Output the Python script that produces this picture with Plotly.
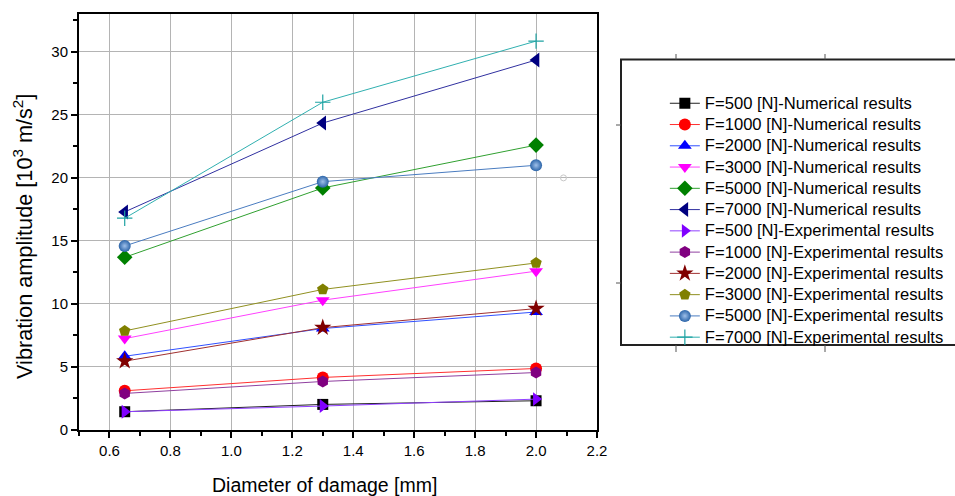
import plotly.graph_objects as go

diam = [0.65, 1.3, 2.0]

names = [
    "F=500 [N]-Numerical results",
    "F=1000 [N]-Numerical results",
    "F=2000 [N]-Numerical results",
    "F=3000 [N]-Numerical results",
    "F=5000 [N]-Numerical results",
    "F=7000 [N]-Numerical results",
    "F=500 [N]-Experimental results",
    "F=1000 [N]-Experimental results",
    "F=2000 [N]-Experimental results",
    "F=3000 [N]-Experimental results",
    "F=5000 [N]-Experimental results",
    "F=7000 [N]-Experimental results",
]

num_500 = [1.45, 2.03, 2.32]
num_1000 = [3.11, 4.17, 4.88]
num_2000 = [5.85, 8.05, 9.36]
num_3000 = [7.25, 10.3, 12.6]
num_5000 = [13.7, 19.2, 22.6]
num_7000 = [17.3, 24.35, 29.35]
exp_500 = [1.45, 1.9, 2.45]
exp_1000 = [2.9, 3.85, 4.56]
exp_2000 = [5.46, 8.12, 9.63]
exp_3000 = [7.86, 11.15, 13.25]
exp_5000 = [14.6, 19.7, 21.0]
exp_7000 = [16.8, 26.0, 30.85]

series = [num_500, num_1000, num_2000, num_3000, num_5000, num_7000,
          exp_500, exp_1000, exp_2000, exp_3000, exp_5000, exp_7000]

marker_colors = ["#000000", "#ff0000", "#0000ff", "#ff00ff", "#008000", "#000080",
                 "#8000ff", "#800080", "#800000", "#808000", "#2b64a8", "#1fa3a3"]
line_colors = ["#202020", "#ff3030", "#3050ff", "#ff40ff", "#30a030", "#3030a0",
               "#9040ff", "#9040a0", "#a03030", "#909020", "#4a7cc0", "#30b0b0"]
symbols = ["square", "circle", "triangle-up", "triangle-down", "diamond", "triangle-left",
           "triangle-right", "hexagon", "star", "pentagon", "circle", "cross-thin"]
sizes = [11, 12, 12, 12, 12, 13, 12, 12, 13, 12, 12, 11]

x_title = "Diameter of damage [mm]"
y_title = "Vibration amplitude [10<sup>3</sup> m/s<sup>2</sup>]"

stray_x = [2.09]
stray_y = [20.0]

font = "Liberation Sans, Arial, sans-serif"

fig = go.Figure()
for name, ys, mc, lc, sym, sz in zip(names, series, marker_colors, line_colors, symbols, sizes):
    marker = dict(symbol=sym, size=sz, color=mc, line=dict(width=0, color=mc))
    if sym == "cross-thin":
        marker["line"] = dict(width=1.2, color=mc)
    if name.startswith("F=5000 [N]-Exp"):
        marker["gradient"] = dict(type="radial", color="#9fc0ea")
    fig.add_trace(go.Scatter(
        x=diam, y=ys, mode="lines+markers",
        name="<span style='font-size:16.6px'>" + name + "</span>",
        line=dict(color=lc, width=1), marker=marker,
    ))

fig.add_trace(go.Scatter(
    x=stray_x, y=stray_y, mode="markers", showlegend=False, hoverinfo="skip",
    marker=dict(symbol="circle-open", size=6, color="#c8c8c8", line=dict(width=1)),
))

fig.update_layout(
    width=955, height=496,
    margin=dict(l=79, r=358, t=14, b=66, autoexpand=False),
    paper_bgcolor="white", plot_bgcolor="white",
    font=dict(family=font, size=15, color="black"),
    showlegend=True,
    legend=dict(
        x=1.131, y=0.823, xanchor="left", yanchor="top",
        bgcolor="rgba(0,0,0,0)", borderwidth=0,
        font=dict(family=font, size=14.05, color="black"),
        tracegroupgap=0,
    ),
    xaxis=dict(
        range=[0.5, 2.2], dtick=0.2, tick0=0.6, tickformat=".1f",
        showgrid=True, gridcolor="#b4b4b4", gridwidth=1,
        ticks="outside", ticklen=6, tickwidth=1.5, tickcolor="black",
        showline=True, linecolor="black", linewidth=2, mirror=True,
        minor=dict(dtick=0.1, ticks="outside", ticklen=4, tickcolor="black", showgrid=False),
        zeroline=False, automargin=False,
        tickfont=dict(size=15),
    ),
    yaxis=dict(
        range=[0, 33], dtick=5, tick0=0,
        showgrid=True, gridcolor="#b4b4b4", gridwidth=1,
        ticks="outside", ticklen=6, tickwidth=1.5, tickcolor="black",
        showline=True, linecolor="black", linewidth=2, mirror=True,
        minor=dict(dtick=2.5, ticks="outside", ticklen=4, tickcolor="black", showgrid=False),
        zeroline=False, automargin=False,
        tickfont=dict(size=15),
    ),
)

pw, ph = 518.0, 416.0
def px(xp):
    return (xp - 79) / pw
def py(yp):
    return (430 - yp) / ph

# axis titles as annotations (positioned like the reference)
fig.add_annotation(text=x_title, xref="paper", yref="paper", x=px(324), y=py(485),
                   xanchor="center", yanchor="middle", showarrow=False,
                   font=dict(family=font, size=19.5, color="black"))
fig.add_annotation(text=y_title, xref="paper", yref="paper", x=px(23), y=py(237),
                   xanchor="center", yanchor="middle", showarrow=False, textangle=-90,
                   font=dict(family=font, size=21.7, color="black"))

# legend frame
fig.add_shape(type="rect", xref="paper", yref="paper",
              x0=px(621), x1=px(962), y0=py(345), y1=py(59.5),
              line=dict(color="#222222", width=2), fillcolor="rgba(0,0,0,0)")
for xt in (676, 825):
    fig.add_shape(type="line", xref="paper", yref="paper", x0=px(xt), x1=px(xt),
                  y0=py(59.5), y1=py(54), line=dict(color="#555555", width=1))
    fig.add_shape(type="line", xref="paper", yref="paper", x0=px(xt), x1=px(xt),
                  y0=py(345), y1=py(352), line=dict(color="#555555", width=1))
for yt in (125, 283):
    fig.add_shape(type="line", xref="paper", yref="paper", x0=px(616), x1=px(621),
                  y0=py(yt), y1=py(yt), line=dict(color="#555555", width=1))

fig.write_html("out.html")
